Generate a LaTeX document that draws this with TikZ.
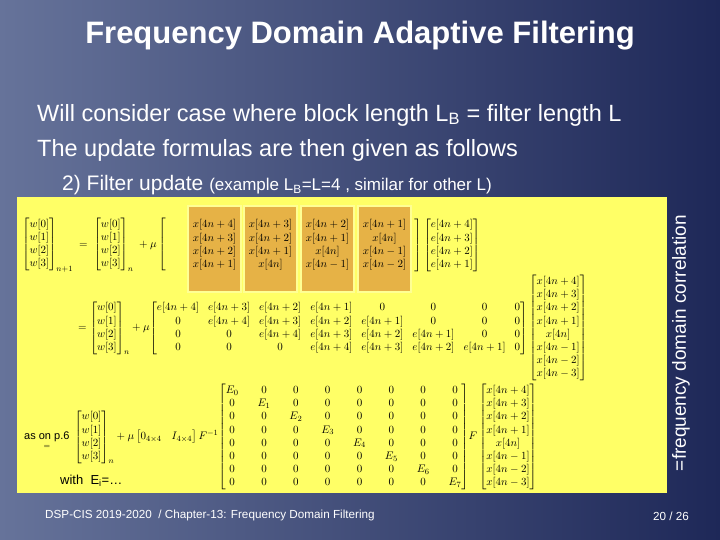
\documentclass[tikz,border=0pt]{standalone}
\usepackage{amsmath}
\usepackage{fontspec}
\setmainfont{Liberation Sans}
\definecolor{bgleft}{HTML}{66739A}
\definecolor{bgright}{HTML}{1E2858}
\definecolor{boxyellow}{HTML}{FFFF66}
\definecolor{boxorange}{HTML}{E6B246}
\tikzset{
  slidetext/.style={text=white,inner sep=0pt},
  mathtext/.style={inner sep=0pt,font=\fontsize{11}{13.2}\selectfont},
  xcolbox/.style={fill=boxorange,draw=boxyellow!70!white,line width=1.5pt},
}
\newcommand{\fourrows}{\vphantom{\begin{matrix}x\\x\\x\\x\end{matrix}}}
\newcommand{\wvec}{\begin{bmatrix}w[0]\\w[1]\\w[2]\\w[3]\end{bmatrix}}
\newcommand{\xvec}{\begin{bmatrix}x[4n+4]\\x[4n+3]\\x[4n+2]\\x[4n+1]\\x[4n]\\x[4n-1]\\x[4n-2]\\x[4n-3]\end{bmatrix}}
\begin{document}
\begin{tikzpicture}[x=1pt,y=-1pt]
\useasboundingbox (0,0) rectangle (720,540);
\shade[left color=bgleft,right color=bgright] (0,0) rectangle (720,540);

% title and bullets
\node[slidetext,font=\bfseries\fontsize{31}{33}\selectfont] (title) at (360,36) {Frequency Domain Adaptive Filtering};
\node[slidetext,anchor=west,font=\fontsize{23.5}{25}\selectfont] (line1) at (37,115) {Will consider case where block length L\textsubscript{B} = filter length L};
\node[slidetext,anchor=west,font=\fontsize{23.5}{25}\selectfont] (line2) at (37,150) {The update formulas are then given as follows};
\node[slidetext,anchor=west,font=\fontsize{21}{23}\selectfont] (line3) at (62,185) {2) Filter update {\fontsize{17}{19}\selectfont (example L\textsubscript{B}=L=4 , similar for other L)}};

% yellow panel
\fill[boxyellow] (17,197) rectangle (667,493);
\foreach \xa/\xb in {188/241,244/297,301/354,358/411}
  \draw[xcolbox] (\xa,206) rectangle (\xb,292);

% first equation
\node[mathtext,anchor=west] (wupd) at (22,245) {$\wvec_{n+1}\;=\;\wvec_{n}\;+\mu\left[\fourrows\right.$};
\node[mathtext] (xcol1) at (214.5,245) {$\begin{matrix}x[4n+4]\\x[4n+3]\\x[4n+2]\\x[4n+1]\end{matrix}$};
\node[mathtext] (xcol2) at (270.5,245) {$\begin{matrix}x[4n+3]\\x[4n+2]\\x[4n+1]\\x[4n]\end{matrix}$};
\node[mathtext] (xcol3) at (327.5,245) {$\begin{matrix}x[4n+2]\\x[4n+1]\\x[4n]\\x[4n-1]\end{matrix}$};
\node[mathtext] (xcol4) at (384.5,245) {$\begin{matrix}x[4n+1]\\x[4n]\\x[4n-1]\\x[4n-2]\end{matrix}$};
\node[mathtext,anchor=west] (evec) at (413,245) {$\left.\fourrows\right]\begin{bmatrix}e[4n+4]\\e[4n+3]\\e[4n+2]\\e[4n+1]\end{bmatrix}$};

% second equation
\node[mathtext,anchor=west] (eqtwo) at (78,328) {$=\wvec_{n}+\mu
  {\setlength\arraycolsep{4.5pt}\begin{bmatrix}
  e[4n+4]&e[4n+3]&e[4n+2]&e[4n+1]&0&0&0&0\\
  0&e[4n+4]&e[4n+3]&e[4n+2]&e[4n+1]&0&0&0\\
  0&0&e[4n+4]&e[4n+3]&e[4n+2]&e[4n+1]&0&0\\
  0&0&0&e[4n+4]&e[4n+3]&e[4n+2]&e[4n+1]&0
  \end{bmatrix}}\xvec$};

% third equation
\node[mathtext,anchor=west] (eqthree) at (24,437) {$\underset{=}{\text{as on p.6}}\;\wvec_{n}+\mu\begin{bmatrix}0_{4\times4}&I_{4\times4}\end{bmatrix}F^{-1}
  {\setlength\arraycolsep{9.5pt}\begin{bmatrix}
  E_0&0&0&0&0&0&0&0\\
  0&E_1&0&0&0&0&0&0\\
  0&0&E_2&0&0&0&0&0\\
  0&0&0&E_3&0&0&0&0\\
  0&0&0&0&E_4&0&0&0\\
  0&0&0&0&0&E_5&0&0\\
  0&0&0&0&0&0&E_6&0\\
  0&0&0&0&0&0&0&E_7
  \end{bmatrix}}F\xvec$};
\node[anchor=west,inner sep=0pt,font=\fontsize{13}{15}\selectfont] (withE) at (60,481) {with\ \ E\textsubscript{i}=\dots};

% side note and footer
\node[slidetext,rotate=90,font=\fontsize{19}{21}\selectfont] (corr) at (681,343) {=frequency domain correlation};
\node[slidetext,anchor=west,font=\fontsize{11.7}{13}\selectfont] (footer) at (45,515) {DSP-CIS 2019-2020 \ / Chapter-13: Frequency Domain Filtering};
\node[slidetext,font=\fontsize{11.7}{13}\selectfont] (page) at (671,516) {20 / 26};
\end{tikzpicture}
\end{document}
